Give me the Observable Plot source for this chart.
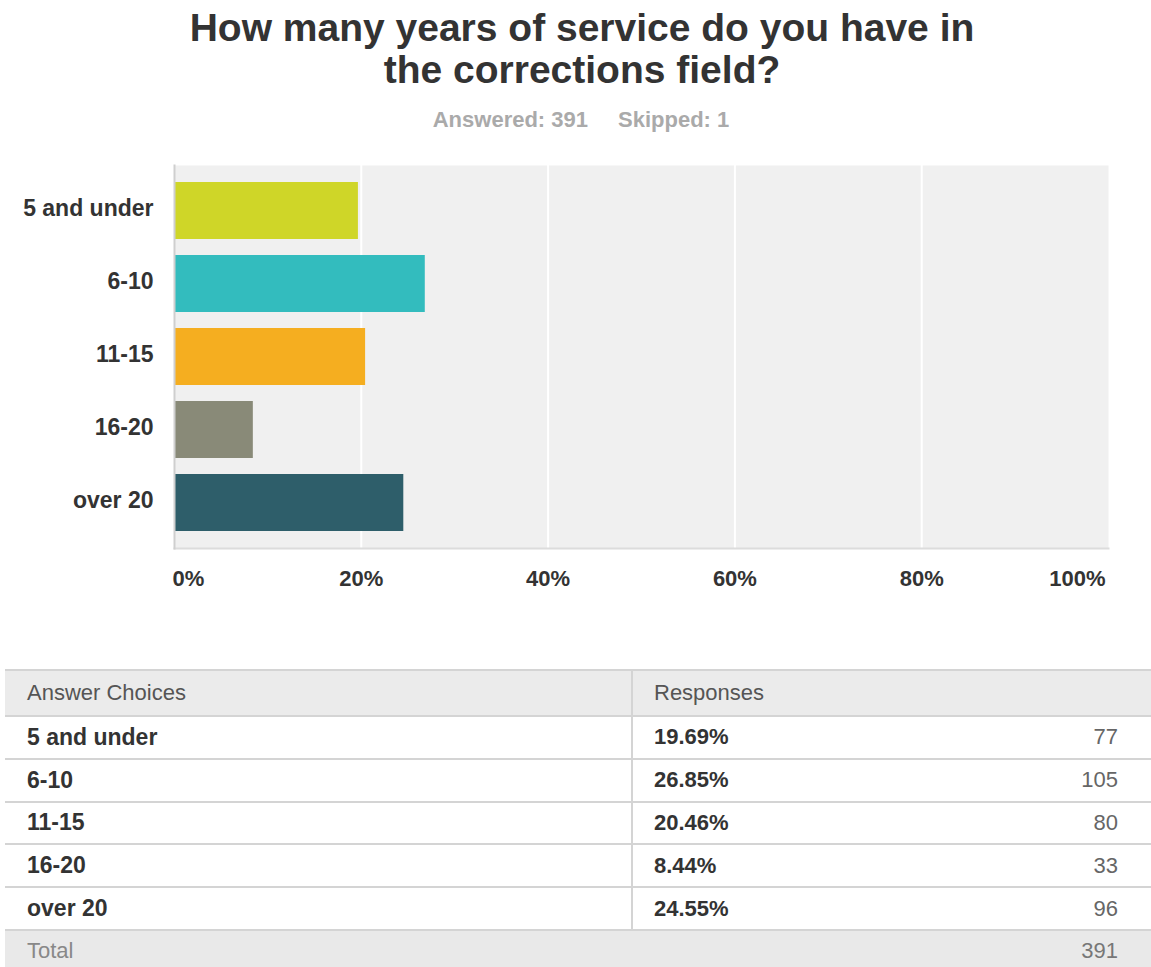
<!DOCTYPE html>
<html>
<head>
<meta charset="utf-8">
<script src="https://cdn.jsdelivr.net/npm/d3@7"></script>
<script src="https://cdn.jsdelivr.net/npm/@observablehq/plot@0.6"></script>
<style>
  html, body { margin: 0; padding: 0; background: #fff; }
  #page { position: relative; width: 1151px; height: 967px; overflow: hidden; font-family: "Liberation Sans", Arial, sans-serif; }
  #title { position: absolute; left: 0; top: 7px; width: 1164px; text-align: center; font-size: 39px; line-height: 42px; font-weight: bold; color: #333; }
  #subtitle { position: absolute; left: 0; top: 108px; width: 1162px; text-align: center; font-size: 22px; line-height: 24px; font-weight: bold; color: #aaa; }
  #subtitle span + span { margin-left: 30px; }
  #chart { position: absolute; left: 0; top: 145px; }
  #tbl { position: absolute; left: 5px; top: 669px; width: 1146px; border-collapse: collapse; table-layout: fixed; font-size: 22px; }
  #tbl td, #tbl th { padding: 0; border-top: 2px solid #d4d4d4; }
  #tbl th { background: #ebebeb; height: 44px; font-weight: normal; color: #555; text-align: left; }
  #tbl td { height: 40.8px; }
  .c1 { padding-left: 22px !important; border-right: 2px solid #d4d4d4; }
  .c2 { padding-left: 21px !important; }
  .c3 { text-align: right; padding-right: 33px !important; color: #666; }
  .lab { font-weight: bold; color: #333; font-size: 23px; }
  .pct { font-weight: bold; color: #333; }
  tr.total td { background: #e9e9e9; color: #888; height: 36px; border-right: none; }
</style>
</head>
<body>
<div id="page">
  <div id="title">How many years of service do you have in<br>the corrections field?</div>
  <div id="subtitle"><span id="answered"></span><span id="skipped"></span></div>
  <div id="chart"></div>
  <table id="tbl"></table>
</div>
<script>
const categories = ["5 and under", "6-10", "11-15", "16-20", "over 20"];
const percents = [19.69, 26.85, 20.46, 8.44, 24.55];
const counts = [77, 105, 80, 33, 96];
const colors = ["#cfd628", "#33bcbe", "#f5ae20", "#898a78", "#2e5e6a"];
const xTicks = [0, 0.2, 0.4, 0.6, 0.8, 1];
const answered = 391;
const skipped = 1;
const total = 391;

document.getElementById("answered").textContent = "Answered: " + answered;
document.getElementById("skipped").textContent = "Skipped: " + skipped;

const data = categories.map((c, i) => ({category: c, share: percents[i] / 100}));
const pctFmt = d3.format(".0%");

const chart = Plot.plot({
  width: 1151,
  height: 470,
  marginTop: 20,
  marginBottom: 67,
  marginLeft: 174,
  marginRight: 43,
  style: {fontFamily: "'Liberation Sans', Arial, sans-serif", fontSize: "22px", fontWeight: "bold", color: "#333", background: "transparent"},
  x: {domain: [0, 1]},
  y: {domain: categories, padding: 0.22},
  color: {domain: categories, range: colors},
  marks: [
    Plot.frame({fill: "#f0f0f0", stroke: null}),
    Plot.gridX(xTicks.slice(1, -1), {stroke: "#fff", strokeOpacity: 1, strokeWidth: 2}),
    Plot.barX(data, {x: "share", y: "category", fill: "category"}),
    Plot.frame({anchor: "bottom", stroke: "#dcdcdc", strokeWidth: 2}),
    Plot.frame({anchor: "left", stroke: "#cfcfcf", strokeWidth: 2}),
    Plot.axisY({tickSize: 0, tickPadding: 21, fontSize: 23, dy: -2, label: null}),
    Plot.axisX(xTicks.slice(0, 1), {tickSize: 0, tickPadding: 22, tickFormat: pctFmt, textAnchor: "start", dx: -2, label: null}),
    Plot.axisX(xTicks.slice(1, -1), {tickSize: 0, tickPadding: 22, tickFormat: pctFmt, label: null}),
    Plot.axisX(xTicks.slice(-1), {tickSize: 0, tickPadding: 22, tickFormat: pctFmt, textAnchor: "end", dx: -3, label: null})
  ]
});
document.getElementById("chart").appendChild(chart);

// Table
const tbl = d3.select("#tbl");
const cg = tbl.append("colgroup");
cg.append("col").style("width", "627px");
cg.append("col").style("width", "260px");
cg.append("col");
const head = tbl.append("tr");
head.append("th").attr("class", "c1").text("Answer Choices");
head.append("th").attr("class", "c2").attr("colspan", 2).text("Responses");
categories.forEach((c, i) => {
  const tr = tbl.append("tr");
  tr.append("td").attr("class", "c1 lab").text(c);
  tr.append("td").attr("class", "c2 pct").text(percents[i].toFixed(2) + "%");
  tr.append("td").attr("class", "c3").text(counts[i]);
});
const tr = tbl.append("tr").attr("class", "total");
tr.append("td").attr("class", "c1").attr("colspan", 2).style("border-right", "none").text("Total");
tr.append("td").attr("class", "c3").style("color", "#777").text(total);
</script>
</body>
</html>
